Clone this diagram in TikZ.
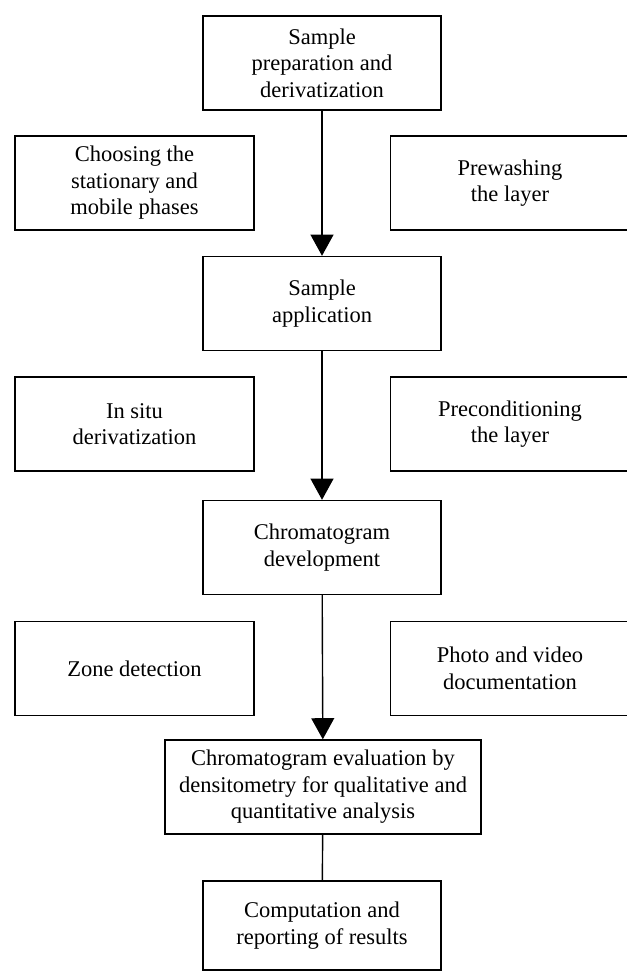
\documentclass[tikz,border=0pt]{standalone}
\usepackage{fontspec}
\setmainfont{Liberation Serif}
\usepackage{tikz}
\usetikzlibrary{arrows.meta,positioning}

\begin{document}
\begin{tikzpicture}[
  stagebox/.style={draw,line width=0.8pt,minimum width=4.76cm,minimum height=1.88cm,
    inner sep=0pt,align=center,font=\fontsize{12.8}{15.1}\selectfont},
  sidebox/.style={stagebox,minimum width=4.78cm},
  flow/.style={line width=0.8pt,-{Triangle[width=13pt,length=12pt]}}
]
  \useasboundingbox (0,0) rectangle (12.54,-19.44);

  % main steps
  \node[stagebox] (prep) at (6.44,-1.26) {Sample\\preparation and\\derivatization};
  \node[stagebox] (apply) at (6.44,-6.07) {Sample\\application};
  \node[stagebox] (develop) at (6.44,-10.95) {Chromatogram\\development};
  \node[stagebox,minimum width=6.32cm] (evaluate) at (6.46,-15.74) {Chromatogram evaluation by\\densitometry for qualitative and\\quantitative analysis};
  \node[stagebox,minimum height=1.78cm] (compute) at (6.44,-18.51) {Computation and\\reporting of results};

  % side steps
  \node[sidebox] (choose) at (2.69,-3.66) {Choosing the\\stationary and\\mobile phases};
  \node[sidebox] (prewash) at (10.2,-3.66) {Prewashing\\the layer};
  \node[sidebox] (insitu) at (2.69,-8.48) {In situ\\derivatization};
  \node[sidebox] (precond) at (10.2,-8.48) {Preconditioning\\the layer};
  \node[sidebox] (zone) at (2.69,-13.37) {Zone detection};
  \node[sidebox] (photo) at (10.2,-13.37) {Photo and video\\documentation};

  % arrows
  \draw[flow] (prep) -- (apply);
  \draw[flow] (apply) -- (develop);
  \draw[flow] (develop) -- (evaluate);
  \draw[line width=0.8pt] (evaluate) -- (compute);
\end{tikzpicture}
\end{document}
